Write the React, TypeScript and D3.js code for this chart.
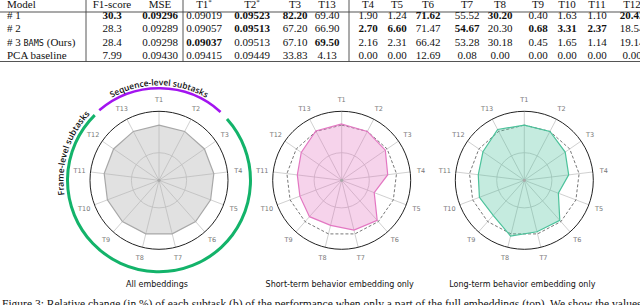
import React from "react";
import * as d3 from "d3";

// ---------- Table data ----------
const tableHeaders = ["F1-score", "MSE", "T1*", "T2*", "T3", "T13", "T4", "T5", "T6", "T7", "T8", "T9", "T10", "T11", "T12"];
const models = ["# 1", "# 2", "# 3 BAMS (Ours)", "PCA baseline"];
const row1 = ["30.3", "0.09296", "0.09019", "0.09523", "82.20", "69.40", "1.90", "1.24", "71.62", "55.52", "30.20", "0.40", "1.63", "1.10", "20.43"];
const row2 = ["28.3", "0.09289", "0.09057", "0.09513", "67.20", "66.90", "2.70", "6.60", "71.47", "54.67", "20.30", "0.68", "3.31", "2.37", "18.54"];
const row3 = ["28.4", "0.09298", "0.09037", "0.09513", "67.10", "69.50", "2.16", "2.31", "66.42", "53.28", "30.18", "0.45", "1.65", "1.14", "19.14"];
const row4 = ["7.99", "0.09430", "0.09415", "0.09449", "33.83", "4.13", "0.00", "0.00", "12.69", "0.08", "0.00", "0.00", "0.00", "0.00", "0.00"];
const bold1 = [1, 1, 0, 1, 1, 0, 0, 0, 1, 0, 1, 0, 0, 0, 1];
const bold2 = [0, 0, 0, 1, 0, 0, 1, 1, 0, 1, 0, 1, 1, 1, 0];
const bold3 = [0, 0, 1, 0, 0, 1, 0, 0, 0, 0, 0, 0, 0, 0, 0];
const bold4 = [0, 0, 0, 0, 0, 0, 0, 0, 0, 0, 0, 0, 0, 0, 0];

// ---------- Radar data (relative performance, 1.0 = all embeddings) ----------
const tasks = ["T1", "T2", "T3", "T4", "T5", "T6", "T7", "T8", "T9", "T10", "T11", "T12", "T13"];
const allValues = [1, 1, 1, 1, 1, 1, 1, 1, 1, 1, 1, 1, 1];
const shortValues = [1.02, 1.0, 0.96, 0.84, 0.63, 0.97, 0.93, 0.84, 0.88, 0.81, 0.81, 0.89, 1.01];
const longValues = [1.0, 1.0, 0.9, 0.81, 0.66, 0.97, 0.96, 1.04, 0.85, 0.87, 0.84, 0.91, 1.04];
const chartTitles = ["All embeddings", "Short-term behavior embedding only", "Long-term behavior embedding only"];

const caption =
  "Figure 3: Relative change (in %) of each subtask (b) of the performance when only a part of the full embeddings (top). We show the values of the";

// layout constants
const colX = [112, 160, 204, 252, 295, 327, 368, 397, 428, 467, 500, 538, 567, 597, 632];
const rowY = [19, 32.3, 45.6, 58.6];
const centers = [159, 341.7, 524.3];
const CY = 180.3;
const rScale = d3.scaleLinear().domain([0, 1.25]).range([0, 69]);
const step = (2 * Math.PI) / tasks.length;

const polar = (cx: number, a: number, r: number): [number, number] => [cx + r * Math.sin(a), CY - r * Math.cos(a)];

function arcPath(cx: number, r: number, a0deg: number, a1deg: number) {
  const a0 = (a0deg * Math.PI) / 180;
  const a1 = (a1deg * Math.PI) / 180;
  const p0 = polar(cx, a0, r);
  const p1 = polar(cx, a1, r);
  const large = a1 - a0 > Math.PI ? 1 : 0;
  return `M${p0[0]},${p0[1]} A${r},${r} 0 ${large} 1 ${p1[0]},${p1[1]}`;
}

function Radar({ cx, values, stroke, fill, fillOpacity, dashed }: any) {
  const line = d3
    .lineRadial<number>()
    .angle((_, i) => i * step)
    .radius((v) => rScale(v))
    .curve(d3.curveLinearClosed);
  return (
    <g>
      <g transform={`translate(${cx},${CY})`}>
        {tasks.map((t, i) => {
          const [x, y] = [rScale(1.25) * Math.sin(i * step), -rScale(1.25) * Math.cos(i * step)];
          return <line key={t} x1={0} y1={0} x2={x} y2={y} stroke="#c4c4c4" strokeWidth={0.8} />;
        })}
        <circle r={rScale(0.5)} fill="none" stroke="#c4c4c4" strokeWidth={0.8} />
        {dashed && (
          <path d={line(allValues) || ""} fill="none" stroke="#555" strokeWidth={0.8} strokeDasharray="3,2" />
        )}
        <path d={line(values) || ""} fill={fill} fillOpacity={fillOpacity} stroke={stroke} strokeWidth={1.2} />
        <circle r={rScale(1.25)} fill="none" stroke="#222" strokeWidth={1} />
        <circle r={1.6} fill="#aaa" />
        {tasks.map((t, i) => (
          <text
            key={t}
            x={80 * Math.sin(i * step)}
            y={-80 * Math.cos(i * step)}
            textAnchor="middle"
            dominantBaseline="central"
            fontFamily="DejaVu Sans"
            fontSize={6.5}
            fill="#777"
          >
            {t}
          </text>
        ))}
      </g>
    </g>
  );
}

export default function App() {
  const rows = [row1, row2, row3, row4];
  const bolds = [bold1, bold2, bold3, bold4];
  const cx0 = centers[0];
  return (
    <svg
      width={640}
      height={305}
      style={{ position: "absolute", left: 0, top: 0, background: "#fff", overflow: "hidden" }}
    >
      {/* Table */}
      <g fontFamily="Liberation Serif" fontSize={11} fill="#111">
        <text x={7} y={8}>Model</text>
        {tableHeaders.map((h, i) => {
          const star = h.endsWith("*");
          return (
            <text key={h} x={colX[i]} y={8} textAnchor="middle">
              {star ? h.slice(0, -1) : h}
              {star && (
                <tspan fontSize={7} dy={-4}>
                  *
                </tspan>
              )}
            </text>
          );
        })}
        <line x1={0} x2={640} y1={12} y2={12} stroke="#555" strokeWidth={1.2} />
        <line x1={0} x2={640} y1={61.5} y2={61.5} stroke="#555" strokeWidth={1.2} />
        <line x1={86} x2={86} y1={0} y2={61.5} stroke="#444" strokeWidth={0.9} />
        <line x1={183} x2={183} y1={0} y2={61.5} stroke="#444" strokeWidth={0.9} />
        <line x1={349} x2={349} y1={0} y2={61.5} stroke="#444" strokeWidth={0.9} />
        {models.map((m, r) => (
          <text key={m} x={7} y={rowY[r]}>
            {m.includes("BAMS") ? (
              <>
                {"# 3 "}
                <tspan fontFamily="DejaVu Sans Mono" fontSize={8.5}>BAMS</tspan>
                {" (Ours)"}
              </>
            ) : (
              m
            )}
          </text>
        ))}
        {rows.map((row, r) =>
          row.map((v, i) => (
            <text
              key={`${r}-${i}`}
              x={colX[i]}
              y={rowY[r]}
              textAnchor="middle"
              fontWeight={bolds[r][i] ? "bold" : "normal"}
            >
              {v}
            </text>
          ))
        )}
      </g>

      {/* Arcs around first chart */}
      <defs>
        <path id="seqPath" d={arcPath(cx0, 95, -60, 60)} />
        <path id="framePath" d={arcPath(cx0, 95.5, 240, 335)} />
      </defs>
      <path d={arcPath(cx0, 92, -40.5, 42)} fill="none" stroke="#a314f0" strokeWidth={2.6} />
      <path d={arcPath(cx0, 91.5, 48, 315.4)} fill="none" stroke="#13b36a" strokeWidth={3} />
      <text fontFamily="Open Sans" fontWeight={600} fontSize={8.4} fill="#111">
        <textPath href="#seqPath" startOffset="50%" textAnchor="middle">
          Sequence-level subtasks
        </textPath>
      </text>
      <text fontFamily="Open Sans" fontWeight={600} fontSize={8.6} fill="#111">
        <textPath href="#framePath" startOffset="50%" textAnchor="middle">
          Frame-level subtasks
        </textPath>
      </text>

      <Radar cx={centers[0]} values={allValues} stroke="#a8a8a8" fill="#b4b4b4" fillOpacity={0.4} dashed={false} />
      <Radar cx={centers[1]} values={shortValues} stroke="#e377c2" fill="#e377c2" fillOpacity={0.32} dashed={true} />
      <Radar cx={centers[2]} values={longValues} stroke="#4cc29b" fill="#4cc29b" fillOpacity={0.32} dashed={true} />

      {chartTitles.map((t, i) => (
        <text key={t} x={centers[i] - 2} y={287} textAnchor="middle" fontFamily="DejaVu Sans" fontSize={8} fill="#111">
          {t}
        </text>
      ))}

      <text x={2} y={308} fontFamily="Liberation Serif" fontSize={11.5} fill="#111">
        {caption}
      </text>
    </svg>
  );
}
